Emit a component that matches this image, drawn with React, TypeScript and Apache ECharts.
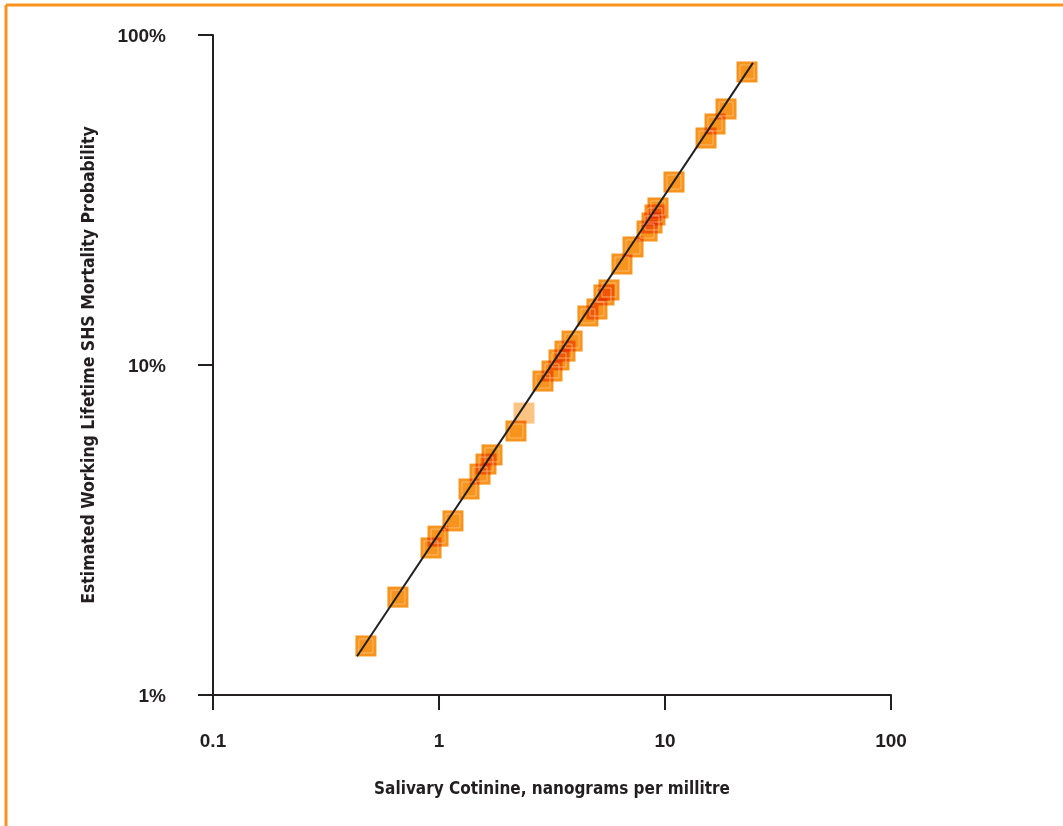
import React, { useEffect, useRef } from 'react';
import * as echarts from 'echarts';

// Salivary cotinine (ng/mL) for each observation
const cotinine = [
  0.475, 0.658, 0.922, 0.99, 1.153, 1.358, 1.519, 1.614, 1.716, 2.19, 2.377,
  2.884, 3.162, 3.396, 3.61, 3.88, 4.56, 5.0, 5.37, 5.65, 6.45, 7.22, 8.33,
  8.76, 9.03, 9.31, 10.96, 15.19, 16.64, 18.62, 23.06,
];
// Estimated working lifetime SHS mortality probability (%)
const mortality = [
  1.408, 1.98, 2.79, 3.03, 3.37, 4.21, 4.67, 5.01, 5.34, 6.31, 7.15, 8.94,
  9.59, 10.36, 11.02, 11.82, 14.08, 14.78, 16.3, 16.88, 20.23, 22.79, 25.47,
  26.94, 28.48, 29.91, 35.85, 48.74, 53.75, 59.68, 77.26,
];
// Indices of observations drawn paler
const fadedPoints = [10];
// Fitted regression line end points
const fitX = [0.434, 24.5];
const fitY = [1.31, 82.3];

const xTickLabels = ['0.1', '1', '10', '100'];
const yTickLabels = ['1%', '10%', '100%'];
const xTitle = 'Salivary Cotinine, nanograms per millitre';
const yTitle = 'Estimated Working Lifetime SHS Mortality Probability';

const INK = '#231f20';
const ORANGE = '#F7941D';
const MARK = '#F7941D';
const TITLE_FONT = '"Liberation Sans Narrow", "DejaVu Sans Condensed", "Liberation Sans", sans-serif';
const LABEL_FONT = '"Liberation Sans", Arial, sans-serif';

export default function App() {
  const ref = useRef<HTMLDivElement>(null);

  useEffect(() => {
    if (!ref.current) return;
    const chart = echarts.init(ref.current, undefined, { renderer: 'svg' });

    const points = cotinine.map((x, i) => {
      const item: any = { value: [x, mortality[i]] };
      if (fadedPoints.includes(i)) item.itemStyle = { opacity: 0.55 };
      return item;
    });
    const inner = cotinine.map((x, i) => {
      const item: any = { value: [x, mortality[i]] };
      if (fadedPoints.includes(i)) item.itemStyle = { opacity: 0.4 };
      return item;
    });

    chart.setOption({
      animation: false,
      backgroundColor: '#ffffff',
      grid: { left: 213, top: 35, width: 678, height: 660, containLabel: false },
      xAxis: {
        type: 'log',
        logBase: 10,
        min: 0.1,
        max: 100,
        name: xTitle,
        nameLocation: 'middle',
        nameGap: 84,
        nameTextStyle: {
          fontFamily: TITLE_FONT,
          fontWeight: 'bold',
          fontSize: 17,
          color: INK,
        },
        axisLine: { show: true, lineStyle: { color: INK, width: 2 } },
        axisTick: { show: true, inside: false, length: 15, lineStyle: { color: INK, width: 2 } },
        axisLabel: {
          margin: 36,
          fontFamily: LABEL_FONT,
          fontWeight: 'bold',
          fontSize: 19,
          color: INK,
          formatter: (v: number) => {
            const idx = Math.round(Math.log10(v)) + 1;
            return xTickLabels[idx] ?? String(v);
          },
        },
        splitLine: { show: false },
        minorTick: { show: false },
      },
      yAxis: {
        type: 'log',
        logBase: 10,
        min: 1,
        max: 100,
        name: yTitle,
        nameLocation: 'middle',
        nameGap: 116,
        nameTextStyle: {
          fontFamily: TITLE_FONT,
          fontWeight: 'bold',
          fontSize: 17.5,
          color: INK,
        },
        axisLine: { show: true, lineStyle: { color: INK, width: 2 } },
        axisTick: { show: true, inside: false, length: 15, lineStyle: { color: INK, width: 2 } },
        axisLabel: {
          margin: 47,
          fontFamily: LABEL_FONT,
          fontWeight: 'bold',
          fontSize: 19,
          color: INK,
          formatter: (v: number) => {
            const idx = Math.round(Math.log10(v));
            return yTickLabels[idx] ?? v + '%';
          },
        },
        splitLine: { show: false },
      },
      graphic: [
        {
          type: 'line',
          shape: { x1: 6, y1: 5, x2: 1063, y2: 5 },
          style: { stroke: ORANGE, lineWidth: 3 },
        },
        {
          type: 'line',
          shape: { x1: 6, y1: 5, x2: 6, y2: 826 },
          style: { stroke: ORANGE, lineWidth: 3 },
        },
      ],
      series: [
        {
          type: 'scatter',
          data: points,
          symbol: 'rect',
          symbolSize: 21,
          itemStyle: { color: MARK, opacity: 1 },
          z: 2,
        },
        {
          type: 'scatter',
          data: inner,
          symbol: 'rect',
          symbolSize: 14,
          itemStyle: {
            color: 'rgba(0,0,0,0)',
            borderColor: 'rgba(255,206,150,0.8)',
            borderWidth: 1,
          },
          z: 3,
          silent: true,
        },
        {
          type: 'line',
          data: fitX.map((x, i) => [x, fitY[i]]),
          symbol: 'none',
          lineStyle: { color: INK, width: 2 },
          z: 4,
        },
      ],
    });

    return () => chart.dispose();
  }, []);

  return (
    <>
      <style>{`
        .chart-root path[fill="${MARK}" i],
        .chart-root path[fill="rgb(247,148,29)"],
        .chart-root path[fill="rgb(247, 148, 29)"] { mix-blend-mode: multiply; }
      `}</style>
      <div
        ref={ref}
        className="chart-root"
        style={{ position: 'absolute', left: 0, top: 0, width: 1063, height: 826, background: '#fff' }}
      />
    </>
  );
}
